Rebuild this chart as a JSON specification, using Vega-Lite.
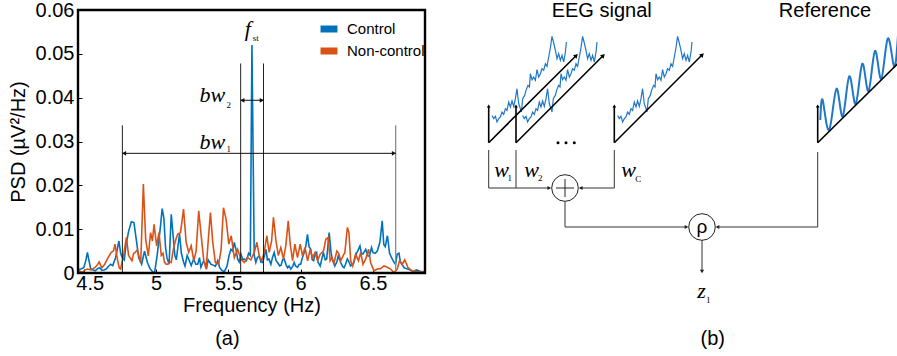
{
"$schema": "https://vega.github.io/schema/vega-lite/v6.json",
"background": "white",
"padding": {"left": 8, "top": 0, "right": 0, "bottom": 0},
"spacing": 54,
"config": {
  "font": "Liberation Sans",
  "view": {"stroke": null},
  "axis": {"labelFont": "Liberation Sans", "titleFont": "Liberation Sans", "labelFontSize": 20, "titleFontSize": 20, "titleFontWeight": "normal", "labelColor": "#000", "titleColor": "#000", "grid": false, "domain": false, "tickColor": "#000", "tickSize": -4, "tickWidth": 1}
},
"datasets": {
  "control": [
    {"f":4.463,"v":0.0008},{"f":4.479,"v":0.0009},{"f":4.5,"v":0.0012},{"f":4.515,"v":0.003},{"f":4.525,"v":0.0047},{"f":4.535,"v":0.003},{"f":4.548,"v":0.0009},{"f":4.565,"v":0.0007},{"f":4.58,"v":0.0005},{"f":4.595,"v":0.001},{"f":4.61,"v":0.0012},{"f":4.625,"v":0.0006},{"f":4.64,"v":0.0007},{"f":4.655,"v":0.0009},{"f":4.67,"v":0.0015},{"f":4.686,"v":0.002},{"f":4.7,"v":0.0017},{"f":4.72,"v":0.0035},{"f":4.743,"v":0.0073},{"f":4.755,"v":0.0045},{"f":4.766,"v":0.0035},{"f":4.78,"v":0.003},{"f":4.793,"v":0.0065},{"f":4.81,"v":0.0095},{"f":4.829,"v":0.0117},{"f":4.847,"v":0.0115},{"f":4.866,"v":0.0069},{"f":4.88,"v":0.0035},{"f":4.9,"v":0.002},{"f":4.92,"v":0.005},{"f":4.94,"v":0.0024},{"f":4.96,"v":0.0009},{"f":4.975,"v":0.0003},{"f":4.99,"v":0.0001},{"f":5.008,"v":0.0042},{"f":5.031,"v":0.0108},{"f":5.042,"v":0.0147},{"f":5.054,"v":0.0125},{"f":5.065,"v":0.006},{"f":5.075,"v":0.0035},{"f":5.09,"v":0.002},{"f":5.105,"v":0.0134},{"f":5.118,"v":0.0085},{"f":5.13,"v":0.004},{"f":5.14,"v":0.003},{"f":5.162,"v":0.0089},{"f":5.175,"v":0.0045},{"f":5.19,"v":0.0025},{"f":5.2,"v":0.0016},{"f":5.215,"v":0.004},{"f":5.23,"v":0.0028},{"f":5.243,"v":0.0017},{"f":5.26,"v":0.0032},{"f":5.275,"v":0.002},{"f":5.288,"v":0.002},{"f":5.3,"v":0.0035},{"f":5.31,"v":0.0013},{"f":5.325,"v":0.0025},{"f":5.335,"v":0.0024},{"f":5.35,"v":0.0012},{"f":5.36,"v":0.003},{"f":5.38,"v":0.002},{"f":5.395,"v":0.0018},{"f":5.41,"v":0.0015},{"f":5.426,"v":0.0028},{"f":5.44,"v":0.0012},{"f":5.455,"v":0.0006},{"f":5.472,"v":0.0003},{"f":5.49,"v":0.0015},{"f":5.505,"v":0.004},{"f":5.518,"v":0.0054},{"f":5.53,"v":0.005},{"f":5.541,"v":0.007},{"f":5.555,"v":0.005},{"f":5.564,"v":0.0032},{"f":5.575,"v":0.0025},{"f":5.587,"v":0.0043},{"f":5.6,"v":0.003},{"f":5.61,"v":0.0032},{"f":5.625,"v":0.0028},{"f":5.64,"v":0.0045},{"f":5.652,"v":0.004},{"f":5.663,"v":0.052},{"f":5.679,"v":0.004},{"f":5.69,"v":0.0024},{"f":5.7,"v":0.0035},{"f":5.714,"v":0.0039},{"f":5.725,"v":0.0025},{"f":5.737,"v":0.0024},{"f":5.75,"v":0.004},{"f":5.76,"v":0.0054},{"f":5.77,"v":0.003},{"f":5.78,"v":0.0032},{"f":5.794,"v":0.002},{"f":5.805,"v":0.0035},{"f":5.817,"v":0.0047},{"f":5.83,"v":0.0028},{"f":5.84,"v":0.0024},{"f":5.855,"v":0.0016},{"f":5.865,"v":0.0018},{"f":5.875,"v":0.003},{"f":5.886,"v":0.0032},{"f":5.9,"v":0.0018},{"f":5.91,"v":0.0012},{"f":5.92,"v":0.0016},{"f":5.932,"v":0.0009},{"f":5.945,"v":0.0015},{"f":5.955,"v":0.0024},{"f":5.965,"v":0.0016},{"f":5.978,"v":0.0013},{"f":5.99,"v":0.002},{"f":6.0,"v":0.002},{"f":6.012,"v":0.0035},{"f":6.024,"v":0.0047},{"f":6.035,"v":0.006},{"f":6.047,"v":0.0088},{"f":6.058,"v":0.006},{"f":6.07,"v":0.0054},{"f":6.08,"v":0.003},{"f":6.09,"v":0.0028},{"f":6.1,"v":0.0045},{"f":6.11,"v":0.0047},{"f":6.12,"v":0.0025},{"f":6.135,"v":0.0016},{"f":6.145,"v":0.003},{"f":6.157,"v":0.0047},{"f":6.17,"v":0.003},{"f":6.18,"v":0.0032},{"f":6.197,"v":0.0092},{"f":6.21,"v":0.0047},{"f":6.22,"v":0.003},{"f":6.236,"v":0.0016},{"f":6.25,"v":0.0025},{"f":6.26,"v":0.0039},{"f":6.277,"v":0.0024},{"f":6.29,"v":0.0015},{"f":6.3,"v":0.0012},{"f":6.31,"v":0.002},{"f":6.323,"v":0.0032},{"f":6.335,"v":0.0025},{"f":6.345,"v":0.0016},{"f":6.36,"v":0.002},{"f":6.369,"v":0.0024},{"f":6.38,"v":0.004},{"f":6.39,"v":0.0047},{"f":6.41,"v":0.0062},{"f":6.42,"v":0.0045},{"f":6.43,"v":0.0043},{"f":6.45,"v":0.0054},{"f":6.465,"v":0.0039},{"f":6.475,"v":0.0038},{"f":6.49,"v":0.0058},{"f":6.5,"v":0.0047},{"f":6.515,"v":0.0045},{"f":6.53,"v":0.005},{"f":6.548,"v":0.007},{"f":6.564,"v":0.0119},{"f":6.575,"v":0.0065},{"f":6.585,"v":0.006},{"f":6.6,"v":0.0085},{"f":6.615,"v":0.0045},{"f":6.633,"v":0.0032},{"f":6.645,"v":0.0025},{"f":6.656,"v":0.002},{"f":6.668,"v":0.0043},{"f":6.68,"v":0.0045},{"f":6.69,"v":0.0025},{"f":6.7,"v":0.002},{"f":6.716,"v":0.0012},{"f":6.73,"v":0.001},{"f":6.75,"v":0.0008},{"f":6.78,"v":0.0003},{"f":6.8,"v":0.0007},{"f":6.827,"v":0.0004},{"f":6.86,"v":0.0003}
  ],
  "noncontrol": [
    {"f":4.463,"v":0.0002},{"f":4.468,"v":0.0005},{"f":4.49,"v":0.0001},{"f":4.505,"v":0.0006},{"f":4.525,"v":0.0009},{"f":4.55,"v":0.0007},{"f":4.576,"v":0.0012},{"f":4.593,"v":0.0018},{"f":4.606,"v":0.0025},{"f":4.625,"v":0.0012},{"f":4.645,"v":0.002},{"f":4.668,"v":0.0035},{"f":4.69,"v":0.0047},{"f":4.705,"v":0.005},{"f":4.716,"v":0.0066},{"f":4.732,"v":0.0032},{"f":4.745,"v":0.0012},{"f":4.755,"v":0.0009},{"f":4.778,"v":0.0047},{"f":4.795,"v":0.0081},{"f":4.81,"v":0.004},{"f":4.833,"v":0.0028},{"f":4.845,"v":0.0045},{"f":4.856,"v":0.0047},{"f":4.87,"v":0.0053},{"f":4.884,"v":0.0035},{"f":4.894,"v":0.0024},{"f":4.912,"v":0.0203},{"f":4.928,"v":0.0077},{"f":4.946,"v":0.0039},{"f":4.962,"v":0.0092},{"f":4.975,"v":0.0073},{"f":4.986,"v":0.0111},{"f":5.004,"v":0.0062},{"f":5.02,"v":0.0092},{"f":5.036,"v":0.004},{"f":5.048,"v":0.0045},{"f":5.058,"v":0.0025},{"f":5.07,"v":0.002},{"f":5.081,"v":0.002},{"f":5.095,"v":0.0025},{"f":5.105,"v":0.0024},{"f":5.117,"v":0.005},{"f":5.128,"v":0.0066},{"f":5.14,"v":0.008},{"f":5.15,"v":0.0089},{"f":5.169,"v":0.0092},{"f":5.19,"v":0.0146},{"f":5.208,"v":0.007},{"f":5.226,"v":0.0047},{"f":5.243,"v":0.0062},{"f":5.261,"v":0.0028},{"f":5.277,"v":0.005},{"f":5.295,"v":0.0142},{"f":5.312,"v":0.0085},{"f":5.33,"v":0.0028},{"f":5.346,"v":0.0009},{"f":5.364,"v":0.0088},{"f":5.376,"v":0.0138},{"f":5.392,"v":0.007},{"f":5.41,"v":0.0024},{"f":5.433,"v":0.002},{"f":5.45,"v":0.0054},{"f":5.466,"v":0.0149},{"f":5.484,"v":0.0123},{"f":5.503,"v":0.0066},{"f":5.52,"v":0.0085},{"f":5.541,"v":0.0035},{"f":5.564,"v":0.0054},{"f":5.587,"v":0.0032},{"f":5.61,"v":0.0024},{"f":5.633,"v":0.0035},{"f":5.656,"v":0.003},{"f":5.679,"v":0.0047},{"f":5.697,"v":0.007},{"f":5.713,"v":0.004},{"f":5.73,"v":0.0028},{"f":5.748,"v":0.0047},{"f":5.766,"v":0.0085},{"f":5.782,"v":0.0047},{"f":5.799,"v":0.0073},{"f":5.812,"v":0.0127},{"f":5.828,"v":0.0077},{"f":5.845,"v":0.004},{"f":5.863,"v":0.0058},{"f":5.881,"v":0.0032},{"f":5.897,"v":0.0062},{"f":5.914,"v":0.0119},{"f":5.928,"v":0.0066},{"f":5.944,"v":0.0028},{"f":5.96,"v":0.0066},{"f":5.978,"v":0.0035},{"f":5.997,"v":0.0066},{"f":6.013,"v":0.0039},{"f":6.03,"v":0.0058},{"f":6.048,"v":0.0028},{"f":6.066,"v":0.0054},{"f":6.082,"v":0.0035},{"f":6.1,"v":0.0047},{"f":6.117,"v":0.0028},{"f":6.135,"v":0.0043},{"f":6.158,"v":0.005},{"f":6.174,"v":0.0077},{"f":6.19,"v":0.0081},{"f":6.204,"v":0.0028},{"f":6.215,"v":0.0035},{"f":6.231,"v":0.0023},{"f":6.25,"v":0.005},{"f":6.263,"v":0.0045},{"f":6.277,"v":0.0028},{"f":6.293,"v":0.0039},{"f":6.306,"v":0.0047},{"f":6.323,"v":0.0104},{"f":6.334,"v":0.0092},{"f":6.346,"v":0.0028},{"f":6.36,"v":0.0016},{"f":6.38,"v":0.0043},{"f":6.4,"v":0.0028},{"f":6.415,"v":0.0047},{"f":6.431,"v":0.002},{"f":6.45,"v":0.0032},{"f":6.47,"v":0.0054},{"f":6.484,"v":0.0024},{"f":6.507,"v":0.0005},{"f":6.53,"v":0.0009},{"f":6.553,"v":0.001},{"f":6.576,"v":0.0016},{"f":6.6,"v":0.0013},{"f":6.622,"v":0.0009},{"f":6.645,"v":0.0001},{"f":6.668,"v":0.0009},{"f":6.684,"v":0.0028},{"f":6.703,"v":0.002},{"f":6.72,"v":0.003},{"f":6.743,"v":0.0012},{"f":6.77,"v":0.0005},{"f":6.8,"v":0.0003},{"f":6.828,"v":0.0003},{"f":6.86,"v":0.0002}
  ],
  "frame": [{"f":4.46,"f2":6.86,"v":0,"v2":0.06}],
  "vlinesBlack": [{"f":4.767,"v":0,"v2":0.0337},{"f":5.585,"v":0,"v2":0.0478},{"f":5.743,"v":0,"v2":0.0478}],
  "vlinesGray": [{"f":6.657,"v":0,"v2":0.0337}],
  "hlines": [{"f":4.767,"f2":6.657,"v":0.0273},{"f":5.585,"f2":5.743,"v":0.0394}],
  "tipsLeft": [{"f":4.779,"v":0.0273},{"f":5.597,"v":0.0394}],
  "tipsRight": [{"f":6.645,"v":0.0273},{"f":5.731,"v":0.0394}],
  "mathBig": [{"f":5.39,"v":0.0406,"t":"bw"},{"f":5.39,"v":0.03,"t":"bw"},{"f":5.634,"v":0.0556,"t":"f"}],
  "mathSmall": [{"f":5.503,"v":0.0384,"t":"2"},{"f":5.503,"v":0.0282,"t":"1"},{"f":5.69,"v":0.0536,"t":"st"}],
  "labelA": [{"f":5.493,"v":-0.0151,"t":"(a)"}],
  "axesSegs": [
    {"x":7.7,"y":140.7,"x2":7.7,"y2":104},{"x":7.7,"y":140.7,"x2":95,"y2":53.8},
    {"x":35,"y":140.7,"x2":35,"y2":104},{"x":35,"y":140.7,"x2":122,"y2":53.8},
    {"x":133.3,"y":140.7,"x2":133.3,"y2":104},{"x":133.3,"y":140.7,"x2":221,"y2":53},
    {"x":336.7,"y":140.7,"x2":336.7,"y2":104},{"x":336.7,"y":140.7,"x2":417,"y2":61.5}
  ],
  "tipsUp": [{"x":7.7,"y":104},{"x":35,"y":104},{"x":133.3,"y":104},{"x":336.7,"y":104}],
  "tipsDiag": [{"x":95.3,"y":53.5},{"x":122.3,"y":53.5},{"x":221.3,"y":52.7}],
  "flowSegs": [
    {"x":7.7,"y":148,"x2":7.7,"y2":186},{"x":35,"y":148,"x2":35,"y2":186},{"x":7.7,"y":186,"x2":69,"y2":186},
    {"x":133.3,"y":148,"x2":133.3,"y2":186},{"x":133.3,"y":186,"x2":99,"y2":186},
    {"x":84,"y":199.3,"x2":84,"y2":225},{"x":84,"y":225,"x2":206,"y2":225},
    {"x":336.7,"y":150,"x2":336.7,"y2":225},{"x":336.7,"y":225,"x2":236,"y2":225},
    {"x":221,"y":238.3,"x2":221,"y2":270}
  ],
  "plusSegs": [{"x":75,"y":186,"x2":93,"y2":186},{"x":84,"y":177,"x2":84,"y2":195}],
  "flowRight": [{"x":68.3,"y":186},{"x":205.5,"y":225}],
  "flowLeft": [{"x":99.7,"y":186},{"x":236.5,"y":225}],
  "flowDown": [{"x":221,"y":269.5}],
  "circles": [{"x":84,"y":186},{"x":221,"y":225}],
  "dots": [{"x":77,"y":140.7},{"x":85,"y":140.7},{"x":93.3,"y":140.7}],
  "sansText": [{"x":120.7,"y":9,"t":"EEG signal"},{"x":344,"y":9,"t":"Reference"},{"x":231.7,"y":336.7,"t":"(b)"}],
  "rhoText": [{"x":221,"y":225,"t":"ρ"}],
  "italicText": [{"x":20.5,"y":168,"t":"w"},{"x":50.5,"y":168,"t":"w"},{"x":147.5,"y":168,"t":"w"},{"x":220.5,"y":289,"t":"z"}],
  "subText": [{"x":28.7,"y":176,"t":"1"},{"x":59.3,"y":176,"t":"2"},{"x":157.3,"y":177,"t":"C"},{"x":227.3,"y":298,"t":"1"}],
  "traces": [
    {"id":"t1","x":11,"y":113.4},{"id":"t1","x":12.7,"y":116.7},{"id":"t1","x":14.4,"y":114.4},{"id":"t1","x":16,"y":120},{"id":"t1","x":17.7,"y":116.7},{"id":"t1","x":19.4,"y":115},{"id":"t1","x":21,"y":110},{"id":"t1","x":22.7,"y":112.4},{"id":"t1","x":24.4,"y":106.7},{"id":"t1","x":26,"y":108.4},{"id":"t1","x":27.7,"y":100},{"id":"t1","x":29.4,"y":105},{"id":"t1","x":31,"y":99},{"id":"t1","x":32.7,"y":104.4},{"id":"t1","x":34.4,"y":96.7},{"id":"t1","x":36,"y":86.7},{"id":"t1","x":37.7,"y":101.7},{"id":"t1","x":39.4,"y":106.7},{"id":"t1","x":40.4,"y":110},{"id":"t1","x":41.7,"y":96.7},{"id":"t1","x":43.7,"y":93.4},{"id":"t1","x":45,"y":88.4},{"id":"t1","x":47,"y":83.4},{"id":"t1","x":48.4,"y":85},{"id":"t1","x":49.4,"y":71.7},{"id":"t1","x":51,"y":77.7},{"id":"t1","x":52.7,"y":75},{"id":"t1","x":54.4,"y":78.4},{"id":"t1","x":56,"y":67.7},{"id":"t1","x":57.7,"y":75},{"id":"t1","x":59.4,"y":71.7},{"id":"t1","x":61,"y":66.7},{"id":"t1","x":62.7,"y":68.4},{"id":"t1","x":64.4,"y":61.7},{"id":"t1","x":66,"y":64.4},{"id":"t1","x":67.7,"y":55},{"id":"t1","x":69.4,"y":45.7},{"id":"t1","x":71,"y":34.4},{"id":"t1","x":72.7,"y":41},{"id":"t1","x":74.4,"y":48.4},{"id":"t1","x":76,"y":56.7},{"id":"t1","x":77.7,"y":51.7},{"id":"t1","x":79.4,"y":58.4},{"id":"t1","x":81,"y":53.4},{"id":"t1","x":82.7,"y":60},{"id":"t1","x":84.4,"y":50},{"id":"t1","x":85.4,"y":40},
    {"id":"t2","x":41.6,"y":113.4},{"id":"t2","x":43.3,"y":116.7},{"id":"t2","x":45,"y":114.4},{"id":"t2","x":46.6,"y":120},{"id":"t2","x":48.3,"y":116.7},{"id":"t2","x":50,"y":115},{"id":"t2","x":51.6,"y":110},{"id":"t2","x":53.3,"y":112.4},{"id":"t2","x":55,"y":106.7},{"id":"t2","x":56.6,"y":108.4},{"id":"t2","x":58.3,"y":100},{"id":"t2","x":60,"y":105},{"id":"t2","x":61.6,"y":99},{"id":"t2","x":63.3,"y":104.4},{"id":"t2","x":65,"y":96.7},{"id":"t2","x":66.6,"y":86.7},{"id":"t2","x":68.3,"y":101.7},{"id":"t2","x":70,"y":106.7},{"id":"t2","x":71,"y":110},{"id":"t2","x":72.3,"y":96.7},{"id":"t2","x":74.3,"y":93.4},{"id":"t2","x":75.6,"y":88.4},{"id":"t2","x":77.6,"y":83.4},{"id":"t2","x":79,"y":85},{"id":"t2","x":80,"y":71.7},{"id":"t2","x":81.6,"y":77.7},{"id":"t2","x":83.3,"y":75},{"id":"t2","x":85,"y":78.4},{"id":"t2","x":86.6,"y":67.7},{"id":"t2","x":88.3,"y":75},{"id":"t2","x":90,"y":71.7},{"id":"t2","x":91.6,"y":66.7},{"id":"t2","x":93.3,"y":68.4},{"id":"t2","x":95,"y":61.7},{"id":"t2","x":96.6,"y":64.4},{"id":"t2","x":98.3,"y":55},{"id":"t2","x":100,"y":45.7},{"id":"t2","x":101.6,"y":34.4},{"id":"t2","x":103.3,"y":41},{"id":"t2","x":105,"y":48.4},{"id":"t2","x":106.6,"y":56.7},{"id":"t2","x":108.3,"y":51.7},{"id":"t2","x":110,"y":58.4},{"id":"t2","x":111.6,"y":53.4},{"id":"t2","x":113.3,"y":60},{"id":"t2","x":115,"y":50},{"id":"t2","x":116,"y":40},
    {"id":"t3","x":136.6,"y":113.4},{"id":"t3","x":138.3,"y":116.7},{"id":"t3","x":140,"y":114.4},{"id":"t3","x":141.6,"y":120},{"id":"t3","x":143.3,"y":116.7},{"id":"t3","x":145,"y":115},{"id":"t3","x":146.6,"y":110},{"id":"t3","x":148.3,"y":112.4},{"id":"t3","x":150,"y":106.7},{"id":"t3","x":151.6,"y":108.4},{"id":"t3","x":153.3,"y":100},{"id":"t3","x":155,"y":105},{"id":"t3","x":156.6,"y":99},{"id":"t3","x":158.3,"y":104.4},{"id":"t3","x":160,"y":96.7},{"id":"t3","x":161.6,"y":86.7},{"id":"t3","x":163.3,"y":101.7},{"id":"t3","x":165,"y":106.7},{"id":"t3","x":166,"y":110},{"id":"t3","x":167.3,"y":96.7},{"id":"t3","x":169.3,"y":93.4},{"id":"t3","x":170.6,"y":88.4},{"id":"t3","x":172.6,"y":83.4},{"id":"t3","x":174,"y":85},{"id":"t3","x":175,"y":71.7},{"id":"t3","x":176.6,"y":77.7},{"id":"t3","x":178.3,"y":75},{"id":"t3","x":180,"y":78.4},{"id":"t3","x":181.6,"y":67.7},{"id":"t3","x":183.3,"y":75},{"id":"t3","x":185,"y":71.7},{"id":"t3","x":186.6,"y":66.7},{"id":"t3","x":188.3,"y":68.4},{"id":"t3","x":190,"y":61.7},{"id":"t3","x":191.6,"y":64.4},{"id":"t3","x":193.3,"y":55},{"id":"t3","x":195,"y":45.7},{"id":"t3","x":196.6,"y":34.4},{"id":"t3","x":198.3,"y":41},{"id":"t3","x":200,"y":48.4},{"id":"t3","x":201.6,"y":56.7},{"id":"t3","x":203.3,"y":51.7},{"id":"t3","x":205,"y":58.4},{"id":"t3","x":206.6,"y":53.4},{"id":"t3","x":208.3,"y":60},{"id":"t3","x":210,"y":50},{"id":"t3","x":211,"y":40}
  ],
  "sine": [
    {"x":339.3,"y":118},{"x":341.9,"y":99},{"x":348.3,"y":127.5},{"x":355.5,"y":86.7},{"x":361.7,"y":114.5},{"x":368.3,"y":74.3},{"x":374.7,"y":102},{"x":381.3,"y":61.7},{"x":387.5,"y":89},{"x":394,"y":49},{"x":400.2,"y":77},{"x":406.7,"y":36.7},{"x":412.9,"y":64},{"x":417,"y":33}
  ]
},
"hconcat": [
  {
    "width": 347, "height": 263,
    "layer": [
      {"data": {"name": "control"}, "mark": {"type": "line", "strokeWidth": 1.6, "clip": true},
       "encoding": {
         "x": {"field": "f", "type": "quantitative", "scale": {"domain": [4.46, 6.86], "nice": false, "zero": false},
               "axis": {"values": [4.5, 5, 5.5, 6, 6.5], "format": "~g", "title": "Frequency (Hz)", "labelPadding": 4, "titlePadding": 2, "labelFlush": 10, "labelFlushOffset": 8}},
         "y": {"field": "v", "type": "quantitative", "scale": {"domain": [0, 0.06], "nice": false},
               "axis": {"values": [0, 0.01, 0.02, 0.03, 0.04, 0.05, 0.06], "format": ".2~f", "title": "PSD (µV²/Hz)", "labelPadding": 8, "titlePadding": 7}},
         "color": {"datum": "Control", "type": "nominal",
                   "scale": {"domain": ["Control", "Non-control"], "range": ["#0072BD", "#D95319"]},
                   "legend": {"orient": "none", "legendX": 243, "legendY": 11, "title": null, "padding": 0,
                              "symbolType": "M-2,0H2", "symbolSize": 72, "symbolStrokeWidth": 7,
                              "labelFont": "Liberation Sans", "labelFontSize": 15, "labelColor": "#000", "labelOffset": 10, "rowPadding": -15, "labelLimit": 200,
                              "encode": {"symbols": {"update": {"strokeWidth": {"value": 7}, "opacity": {"value": 1}}}}}}
       }},
      {"data": {"name": "noncontrol"}, "mark": {"type": "line", "strokeWidth": 1.6, "clip": true},
       "encoding": {
         "x": {"field": "f", "type": "quantitative"},
         "y": {"field": "v", "type": "quantitative"},
         "color": {"datum": "Non-control", "type": "nominal"}
       }},
      {"data": {"name": "vlinesBlack"}, "mark": {"type": "rule", "color": "#222", "strokeWidth": 1},
       "encoding": {"x": {"field": "f", "type": "quantitative"}, "y": {"field": "v", "type": "quantitative"}, "y2": {"field": "v2"}}},
      {"data": {"name": "vlinesGray"}, "mark": {"type": "rule", "color": "#8a8a8a", "strokeWidth": 1.3},
       "encoding": {"x": {"field": "f", "type": "quantitative"}, "y": {"field": "v", "type": "quantitative"}, "y2": {"field": "v2"}}},
      {"data": {"name": "hlines"}, "mark": {"type": "rule", "color": "#111", "strokeWidth": 1},
       "encoding": {"x": {"field": "f", "type": "quantitative"}, "x2": {"field": "f2"}, "y": {"field": "v", "type": "quantitative"}}},
      {"data": {"name": "tipsLeft"}, "mark": {"type": "point", "shape": "triangle-left", "filled": true, "color": "#111", "size": 22, "opacity": 1},
       "encoding": {"x": {"field": "f", "type": "quantitative"}, "y": {"field": "v", "type": "quantitative"}}},
      {"data": {"name": "tipsRight"}, "mark": {"type": "point", "shape": "triangle-right", "filled": true, "color": "#111", "size": 22, "opacity": 1},
       "encoding": {"x": {"field": "f", "type": "quantitative"}, "y": {"field": "v", "type": "quantitative"}}},
      {"data": {"name": "mathBig"}, "mark": {"type": "text", "font": "Liberation Serif", "fontStyle": "italic", "fontSize": 22, "color": "#000", "baseline": "middle", "align": "center"},
       "encoding": {"x": {"field": "f", "type": "quantitative"}, "y": {"field": "v", "type": "quantitative"}, "text": {"field": "t"}}},
      {"data": {"name": "mathSmall"}, "mark": {"type": "text", "font": "Liberation Serif", "fontSize": 9, "color": "#000", "baseline": "middle", "align": "center"},
       "encoding": {"x": {"field": "f", "type": "quantitative"}, "y": {"field": "v", "type": "quantitative"}, "text": {"field": "t"}}},
      {"data": {"name": "labelA"}, "mark": {"type": "text", "font": "Liberation Sans", "fontSize": 20, "color": "#000", "baseline": "middle", "align": "center"},
       "encoding": {"x": {"field": "f", "type": "quantitative"}, "y": {"field": "v", "type": "quantitative"}, "text": {"field": "t"}}},
      {"data": {"name": "frame"}, "mark": {"type": "rect", "fill": null, "filled": false, "stroke": "#000", "strokeWidth": 2.4, "opacity": 1},
       "encoding": {"x": {"field": "f", "type": "quantitative"}, "x2": {"field": "f2"}, "y": {"field": "v", "type": "quantitative"}, "y2": {"field": "v2"}}}
    ]
  },
  {
    "width": 417, "height": 348,
    "layer": [
      {"data": {"name": "traces"}, "mark": {"type": "line", "color": "#1f78c8", "strokeWidth": 1.2},
       "encoding": {
         "x": {"field": "x", "type": "quantitative", "scale": {"domain": [0, 417], "nice": false, "zero": false}, "axis": null},
         "y": {"field": "y", "type": "quantitative", "scale": {"domain": [8, 356], "nice": false, "zero": false, "reverse": true}, "axis": null},
         "detail": {"field": "id"}
       }},
      {"data": {"name": "sine"}, "mark": {"type": "line", "color": "#1f78c8", "strokeWidth": 2, "interpolate": "natural"},
       "encoding": {"x": {"field": "x", "type": "quantitative"}, "y": {"field": "y", "type": "quantitative"}}},
      {"data": {"name": "axesSegs"}, "mark": {"type": "rule", "color": "#000", "strokeWidth": 1.6},
       "encoding": {"x": {"field": "x", "type": "quantitative"}, "y": {"field": "y", "type": "quantitative"}, "x2": {"field": "x2"}, "y2": {"field": "y2"}}},
      {"data": {"name": "tipsUp"}, "mark": {"type": "point", "shape": "triangle-up", "filled": true, "color": "#000", "size": 14, "opacity": 1},
       "encoding": {"x": {"field": "x", "type": "quantitative"}, "y": {"field": "y", "type": "quantitative"}}},
      {"data": {"name": "tipsDiag"}, "mark": {"type": "point", "shape": "triangle-up", "angle": 45, "filled": true, "color": "#000", "size": 24, "opacity": 1},
       "encoding": {"x": {"field": "x", "type": "quantitative"}, "y": {"field": "y", "type": "quantitative"}}},
      {"data": {"name": "flowSegs"}, "mark": {"type": "rule", "color": "#333", "strokeWidth": 1},
       "encoding": {"x": {"field": "x", "type": "quantitative"}, "y": {"field": "y", "type": "quantitative"}, "x2": {"field": "x2"}, "y2": {"field": "y2"}}},
      {"data": {"name": "circles"}, "mark": {"type": "point", "shape": "circle", "filled": true, "fill": "#fff", "stroke": "#222", "strokeWidth": 1, "size": 708, "opacity": 1},
       "encoding": {"x": {"field": "x", "type": "quantitative"}, "y": {"field": "y", "type": "quantitative"}}},
      {"data": {"name": "plusSegs"}, "mark": {"type": "rule", "color": "#222", "strokeWidth": 1},
       "encoding": {"x": {"field": "x", "type": "quantitative"}, "y": {"field": "y", "type": "quantitative"}, "x2": {"field": "x2"}, "y2": {"field": "y2"}}},
      {"data": {"name": "flowRight"}, "mark": {"type": "point", "shape": "triangle-right", "filled": true, "color": "#222", "size": 18, "opacity": 1},
       "encoding": {"x": {"field": "x", "type": "quantitative"}, "y": {"field": "y", "type": "quantitative"}}},
      {"data": {"name": "flowLeft"}, "mark": {"type": "point", "shape": "triangle-left", "filled": true, "color": "#222", "size": 18, "opacity": 1},
       "encoding": {"x": {"field": "x", "type": "quantitative"}, "y": {"field": "y", "type": "quantitative"}}},
      {"data": {"name": "flowDown"}, "mark": {"type": "point", "shape": "triangle-down", "filled": true, "color": "#222", "size": 18, "opacity": 1},
       "encoding": {"x": {"field": "x", "type": "quantitative"}, "y": {"field": "y", "type": "quantitative"}}},
      {"data": {"name": "dots"}, "mark": {"type": "point", "shape": "circle", "filled": true, "color": "#000", "size": 9, "opacity": 1},
       "encoding": {"x": {"field": "x", "type": "quantitative"}, "y": {"field": "y", "type": "quantitative"}}},
      {"data": {"name": "sansText"}, "mark": {"type": "text", "font": "Liberation Sans", "fontSize": 20, "color": "#000", "baseline": "middle", "align": "center"},
       "encoding": {"x": {"field": "x", "type": "quantitative"}, "y": {"field": "y", "type": "quantitative"}, "text": {"field": "t"}}},
      {"data": {"name": "rhoText"}, "mark": {"type": "text", "font": "Liberation Sans", "fontSize": 19, "color": "#000", "baseline": "middle", "align": "center"},
       "encoding": {"x": {"field": "x", "type": "quantitative"}, "y": {"field": "y", "type": "quantitative"}, "text": {"field": "t"}}},
      {"data": {"name": "italicText"}, "mark": {"type": "text", "font": "Liberation Serif", "fontStyle": "italic", "fontSize": 22, "color": "#000", "baseline": "middle", "align": "center"},
       "encoding": {"x": {"field": "x", "type": "quantitative"}, "y": {"field": "y", "type": "quantitative"}, "text": {"field": "t"}}},
      {"data": {"name": "subText"}, "mark": {"type": "text", "font": "Liberation Serif", "fontSize": 9, "color": "#000", "baseline": "middle", "align": "center"},
       "encoding": {"x": {"field": "x", "type": "quantitative"}, "y": {"field": "y", "type": "quantitative"}, "text": {"field": "t"}}}
    ]
  }
]
}
